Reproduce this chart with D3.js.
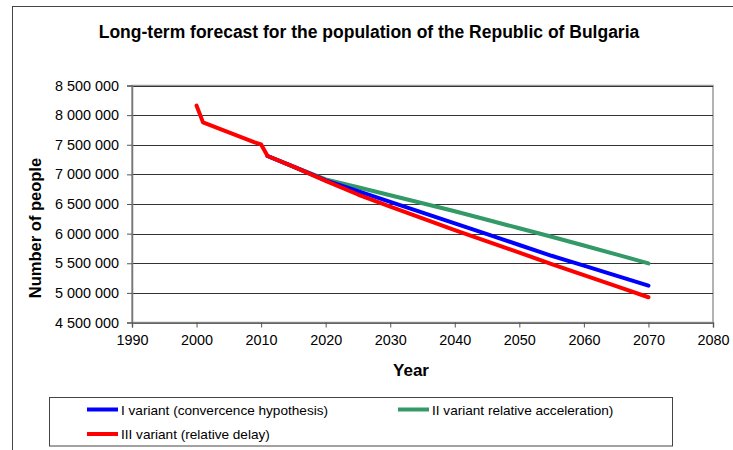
<!DOCTYPE html>
<html>
<head>
<meta charset="utf-8">
<script src="https://cdn.jsdelivr.net/npm/d3@7.9.0/dist/d3.min.js"></script>
<style>
  body { margin: 0; background: #fff; }
  svg { font-family: "Liberation Sans", Arial, sans-serif; }
</style>
</head>
<body>
<svg id="chart" width="733" height="450"></svg>
<script>
// ── Data ───────────────────────────────────────────────────────────────────
const histYears = [2000, 2001, 2009, 2010, 2011];
const histValues = [8160000, 7878000, 7540000, 7505000, 7310000];

const forecastYears = [2011, 2015, 2020, 2025, 2030, 2035, 2040, 2045, 2050, 2055, 2060, 2065, 2070];
const variant1 = [7310000, 7130000, 6900000, 6716000, 6536000, 6355000, 6174000, 5990000, 5808000, 5626000, 5460000, 5290000, 5122000];
const variant2 = [7310000, 7130000, 6915000, 6782000, 6648000, 6513000, 6378000, 6235000, 6090000, 5948000, 5800000, 5650000, 5497000];
const variant3 = [7310000, 7130000, 6890000, 6660000, 6454000, 6257000, 6060000, 5870000, 5680000, 5487000, 5300000, 5113000, 4926000];

const xTicks = [1990, 2000, 2010, 2020, 2030, 2040, 2050, 2060, 2070, 2080];
const yTicks = [4500000, 5000000, 5500000, 6000000, 6500000, 7000000, 7500000, 8000000, 8500000];

const seriesNames = [
  'I variant (convercence hypothesis)',
  'II variant relative acceleration)',
  'III variant (relative delay)'
];
const seriesColors = ['#0000ff', '#339966', '#ff0000'];

// ── Setup ──────────────────────────────────────────────────────────────────
const svg = d3.select('#chart');
const plot = { left: 132, right: 713, top: 85.5, bottom: 322.5 };

const x = d3.scaleLinear().domain([1990, 2080]).range([plot.left, plot.right]);
const y = d3.scaleLinear().domain([4500000, 8500000]).range([plot.bottom, plot.top]);

const fmt = (v) => d3.format(',')(v).replace(/,/g, ' ');

// outer frame
svg.append('rect')
  .attr('x', 12.5).attr('y', 6.5)
  .attr('width', 740).attr('height', 460)
  .attr('fill', 'none').attr('stroke', '#444').attr('stroke-width', 1);

// title
svg.append('text')
  .attr('x', 369).attr('y', 38)
  .attr('text-anchor', 'middle')
  .attr('font-size', 17.5).attr('font-weight', 'bold')
  .text('Long-term forecast for the population of the Republic of Bulgaria');

// plot border (right / top)
svg.append('rect')
  .attr('x', plot.left).attr('y', plot.top)
  .attr('width', plot.right - plot.left).attr('height', plot.bottom - plot.top)
  .attr('fill', 'none').attr('stroke', '#9a9a9a').attr('stroke-width', 1.5);

// gridlines
svg.append('g')
  .selectAll('line')
  .data(yTicks)
  .join('line')
  .attr('x1', plot.left).attr('x2', plot.right)
  .attr('y1', (d) => Math.round(y(d)) + 0.5).attr('y2', (d) => Math.round(y(d)) + 0.5)
  .attr('stroke', '#333').attr('stroke-width', 1);

// axes
const yAxis = svg.append('g')
  .attr('transform', `translate(${plot.left},0)`)
  .call(d3.axisLeft(y).tickValues(yTicks).tickFormat(fmt).tickSize(5).tickPadding(8));
const xAxis = svg.append('g')
  .attr('transform', `translate(0,${plot.bottom})`)
  .call(d3.axisBottom(x).tickValues(xTicks).tickFormat(d3.format('d')).tickSize(5).tickPadding(7));

[yAxis, xAxis].forEach((g) => {
  g.selectAll('path').attr('stroke', '#777').attr('stroke-width', 1.5);
  g.selectAll('line').attr('stroke', '#555');
  g.selectAll('text').attr('font-size', 14.4).attr('fill', '#000')
    .attr('font-family', '"Liberation Sans", Arial, sans-serif');
});

// axis titles
svg.append('text')
  .attr('transform', 'translate(41,228) rotate(-90)')
  .attr('text-anchor', 'middle')
  .attr('font-size', 16.5).attr('font-weight', 'bold')
  .text('Number of people');
svg.append('text')
  .attr('x', 411).attr('y', 376)
  .attr('text-anchor', 'middle')
  .attr('font-size', 17).attr('font-weight', 'bold')
  .text('Year');

// ── Lines ──────────────────────────────────────────────────────────────────
const line = d3.line().x((d) => x(d[0])).y((d) => y(d[1]));

const redYears = histYears.concat(forecastYears.slice(1));
const redValues = histValues.concat(variant3.slice(1));

const drawn = [
  { pts: d3.zip(forecastYears, variant2), color: seriesColors[1] },
  { pts: d3.zip(forecastYears, variant1), color: seriesColors[0] },
  { pts: d3.zip(redYears, redValues), color: seriesColors[2] }
];

svg.append('g')
  .selectAll('path')
  .data(drawn)
  .join('path')
  .attr('d', (d) => line(d.pts))
  .attr('fill', 'none')
  .attr('stroke', (d) => d.color)
  .attr('stroke-width', 4)
  .attr('stroke-linejoin', 'round')
  .attr('stroke-linecap', 'round');

// ── Legend ─────────────────────────────────────────────────────────────────
svg.append('rect')
  .attr('x', 49.5).attr('y', 397.5)
  .attr('width', 623).attr('height', 48.5)
  .attr('fill', '#fff').attr('stroke', '#444').attr('stroke-width', 1);

const legendPos = [[87, 409.5], [398, 409.5], [87, 434]];
const legend = svg.append('g')
  .selectAll('g')
  .data(seriesNames)
  .join('g')
  .attr('transform', (d, i) => `translate(${legendPos[i][0]},${legendPos[i][1]})`);

legend.append('line')
  .attr('x1', 0).attr('x2', 31).attr('y1', 0).attr('y2', 0)
  .attr('stroke', (d, i) => seriesColors[i]).attr('stroke-width', 4);
legend.append('text')
  .attr('x', 34).attr('y', 5)
  .attr('font-size', 13.6)
  .text((d) => d);
</script>
</body>
</html>
